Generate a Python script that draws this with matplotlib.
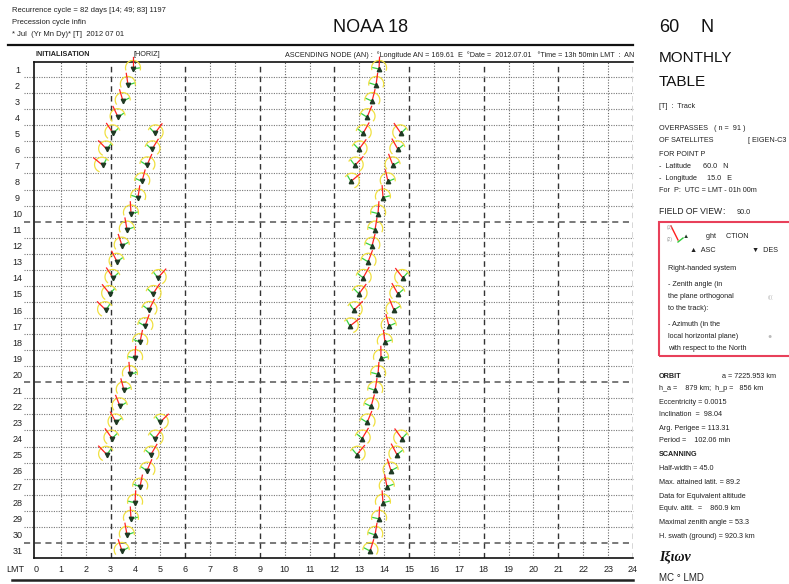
import numpy as np
import matplotlib.pyplot as plt
from matplotlib.lines import Line2D
from matplotlib.patches import Rectangle
from matplotlib.transforms import Affine2D, ScaledTranslation

plt.rcParams['font.family'] = ['Liberation Sans', 'DejaVu Sans']

W, H = 789, 584

# descending passes (day of month, LMT hour)
des_days = [1, 2, 3, 4, 5, 5, 6, 6, 7, 7, 8, 9, 10, 11, 12, 13, 14, 14, 15, 15, 16, 16,
            17, 18, 19, 20, 21, 22, 23, 23, 24, 24, 25, 25, 26, 27, 28, 29, 30, 31]
des_hours = [3.90, 3.70, 3.50, 3.30, 3.10, 4.78, 2.85, 4.66, 2.69, 4.46, 4.26, 4.10,
             3.82, 3.66, 3.46, 3.26, 3.10, 4.90, 2.97, 4.70, 2.81, 4.54,
             4.38, 4.18, 3.98, 3.78, 3.54, 3.38, 3.22, 4.98, 3.06, 4.78, 2.85, 4.62,
             4.46, 4.18, 3.98, 3.82, 3.66, 3.46]

# ascending passes
asc_days = [1, 2, 3, 4, 5, 5, 6, 6, 7, 7, 8, 8, 9, 10, 11, 12, 13, 14, 14, 15, 15, 16, 16,
            17, 17, 18, 19, 20, 21, 22, 23, 24, 24, 25, 25, 26, 27, 28, 29, 30, 31]
asc_hours = [13.79, 13.67, 13.51, 13.31, 13.15, 14.67, 12.98, 14.55, 12.82, 14.35,
             12.66, 14.15, 13.95, 13.75, 13.63, 13.51, 13.35, 13.15, 14.75, 12.98, 14.55,
             12.78, 14.39, 12.62, 14.19, 14.03, 13.87, 13.75, 13.63, 13.47, 13.31,
             13.11, 14.71, 12.90, 14.51, 14.27, 14.11, 13.95, 13.79, 13.63, 13.43]

days = list(range(1, 32))
hours = list(range(0, 25))

fig = plt.figure(figsize=(W / 100, H / 100), dpi=100)
fig.patch.set_facecolor('white')
ax = fig.add_axes([34 / W, 1 - 558 / H, (633 - 34) / W, (558 - 62) / H])


def fx(x):
    return x / W


def fy(y):
    return 1 - y / H


# grid
for h in hours[1:]:
    if h % 3 == 0:
        ax.axvline(h, color='#333333', lw=1.0, ls=(0, (4, 3)), zorder=1)
    else:
        ax.axvline(h, color='#666666', lw=0.8, ls=(0, (1, 1.5)), zorder=1)
for d in days[:-1]:
    yb = d + 0.5
    if d % 10 == 0:
        ax.hlines(yb, -0.016, 1, transform=ax.get_yaxis_transform(), clip_on=False,
                  color='#555555', lw=1.1, ls=(0, (4, 3)), zorder=1)
    else:
        ax.hlines(yb, -0.016, 1, transform=ax.get_yaxis_transform(), clip_on=False,
                  color='#777777', lw=0.8, ls=(0, (1, 1.2)), zorder=1)


def glyph(h, day, asc):
    if asc:
        tilt = -(h - 13.85) * 42
    else:
        tilt = (h - 3.9) * 42
    tr = Affine2D().rotate_deg(-tilt).scale(fig.dpi / 72) + ScaledTranslation(h, day, ax.transData)
    th = np.radians(np.linspace(-15, 195, 40))
    ax.add_line(Line2D(5.4 * np.cos(th), 5.4 * np.sin(th) + 0.8, transform=tr,
                       color='#f0e040', lw=0.9, clip_on=False, zorder=3))
    side = 1 if tilt <= 0 else -1
    ax.add_line(Line2D([0, side * 4.5], [0, 0.8], transform=tr,
                       color='#36d040', lw=0.9, clip_on=False, zorder=4))
    ax.add_line(Line2D([0, 0], [0, 8.5], transform=tr,
                       color='#ff2222', lw=0.9, clip_on=False, zorder=5))
    ax.plot([h], [day], marker='^' if asc else 'v', ms=3.2, color='#1f3a24',
            clip_on=False, zorder=6)


for h, d in zip(des_hours, des_days):
    glyph(h, d, False)
for h, d in zip(asc_hours, asc_days):
    glyph(h, d, True)

ax.set_xlim(-0.08, 24)
ax.set_ylim(31.436, 0.564)
ax.set_xticks(hours)
ax.set_xticklabels([str(h) for h in hours], fontsize=6.5, color='#222222')
ax.set_yticks(days)
ax.set_yticklabels([str(d) for d in days], fontsize=6.5, color='#222222')
ax.tick_params(axis='x', length=0, pad=5)
ax.tick_params(axis='y', length=0, pad=12)
for lab in ax.get_yticklabels():
    lab.set_ha('center')
for s in ['left', 'top', 'bottom']:
    ax.spines[s].set_linewidth(1.2)
    ax.spines[s].set_color('#111111')
ax.spines['right'].set_visible(False)

# frame lines above and below the table
fig.add_artist(Line2D([fx(8), fx(633)], [fy(45), fy(45)], color='#111111', lw=1.6))
fig.add_artist(Line2D([fx(12), fx(633)], [fy(580), fy(580)], color='#222222', lw=1.8))

small = 5.2
fig.text(fx(12), fy(10), 'Recurrence cycle = 82 days [14; 49; 83] 1197', fontsize=5.5, va='center', color='#222222')
fig.text(fx(12), fy(23), 'Precession cycle infin', fontsize=5.5, va='center', color='#222222')
fig.text(fx(12), fy(35), '* Jul  (Yr Mn Dy)* [T]  2012 07 01', fontsize=5.5, va='center', color='#222222')
fig.text(fx(371), fy(27), 'NOAA 18', fontsize=13, ha='center', va='center', color='#111111')

fig.text(fx(35), fy(55), 'INITIALISATION', fontsize=small, weight='bold', va='center', color='#222222')
fig.text(fx(133), fy(55), '[HORIZ]', fontsize=small, va='center', color='#222222')
fig.text(fx(634), fy(55), 'ASCENDING NODE (AN) :  °Longitude AN = 169.61  E  °Date =  2012.07.01   °Time = 13h 50min LMT  :  AN',
         fontsize=small, ha='right', va='center', color='#222222')
fig.text(fx(15), fy(570), 'LMT', fontsize=6.5, ha='center', va='center', color='#222222')

# right panel
fig.text(fx(659), fy(27), '60', fontsize=13, va='center', color='#111111')
fig.text(fx(700), fy(27), 'N', fontsize=13, va='center', color='#111111')
fig.text(fx(659), fy(58), 'MONTHLY', fontsize=11, va='center', color='#111111')
fig.text(fx(659), fy(82), 'TABLE', fontsize=11, va='center', color='#111111')

panel = [
    (107, '[T]  :  Track'),
    (129, 'OVERPASSES   ( n =  91 )'),
    (141, 'OF SATELLITES'),
    (154, 'FOR POINT P'),
    (166, '-  Latitude      60.0   N'),
    (179, '-  Longitude     15.0   E'),
    (191, 'For  P:  UTC = LMT - 01h 00m'),
]
for y, s in panel:
    fig.text(fx(659), fy(y), s, fontsize=small, va='center', color='#222222')
fig.text(fx(748), fy(141), '[ EIGEN-C3', fontsize=small, va='center', color='#222222')
fig.text(fx(659), fy(212), 'FIELD OF VIEW', fontsize=6.2, va='center', color='#222222')
fig.text(fx(722), fy(212), ':', fontsize=6.2, va='center', color='#222222')
fig.text(fx(737), fy(212), '90.0', fontsize=small, va='center', color='#222222')

fig.add_artist(Rectangle((fx(659), fy(356)), fx(140), 134 / H, fill=False,
                         edgecolor='#e8405a', lw=1.5))
fig.add_artist(Line2D([fx(671), fx(678)], [fy(226), fy(240)], color='#ff1f1f', lw=1.0))
fig.add_artist(Line2D([fx(678), fx(683)], [fy(242), fy(238)], color='#2fcf3a', lw=1.0))
fig.text(fx(667), fy(228), '(1)', fontsize=3.5, va='center', color='#999999')
fig.text(fx(667), fy(240), '(2)', fontsize=3.5, va='center', color='#999999')
fig.text(fx(683), fy(237), '▲', fontsize=4.5, va='center', color='#1f3a24')
fig.text(fx(706), fy(237), 'ght     CTION', fontsize=small, va='center', color='#222222')
fig.text(fx(690), fy(250), '▲  ASC', fontsize=small, va='center', color='#222222')
fig.text(fx(752), fy(250), '▼  DES', fontsize=small, va='center', color='#222222')
box = [
    (268, 'Right-handed system'),
    (285, '- Zenith angle (in'),
    (297, 'the plane orthogonal'),
    (309, 'to the track):'),
    (325, '- Azimuth (in the'),
    (337, 'local horizontal plane)'),
    (349, 'with respect to the North'),
]
for y, s in box:
    fig.text(fx(668), fy(y), s, fontsize=small, va='center', color='#222222')
fig.text(fx(768), fy(297), '(((', fontsize=4, va='center', color='#bbbbbb')
fig.text(fx(770), fy(337), '●', fontsize=5, va='center', ha='center', color='#bbbbbb')

orbit = [
    (389, 'h_a =    879 km;  h_p =   856 km'),
    (402, 'Eccentricity = 0.0015'),
    (415, 'Inclination  =  98.04'),
    (428, 'Arg. Perigee = 113.31'),
    (441, 'Period =    102.06 min'),
    (469, 'Half-width = 45.0'),
    (482, 'Max. attained latit. = 89.2'),
    (496, 'Data for Equivalent altitude'),
    (509, 'Equiv. altit.  =    860.9 km'),
    (522, 'Maximal zenith angle = 53.3'),
    (536, 'H. swath (ground) = 920.3 km'),
]
fig.text(fx(659), fy(376), 'ORBIT', fontsize=small, weight='bold', va='center', color='#222222')
fig.text(fx(722), fy(376), 'a = 7225.953 km', fontsize=small, va='center', color='#222222')
fig.text(fx(659), fy(455), 'SCANNING', fontsize=small, weight='bold', va='center', color='#222222')
for y, s in orbit:
    fig.text(fx(659), fy(y), s, fontsize=small, va='center', color='#222222')
fig.text(fx(659), fy(557), 'Ιξιων', fontsize=10, family='Liberation Serif', style='italic',
         weight='bold', va='center', color='#111111')
fig.text(fx(659), fy(578), 'MC ° LMD', fontsize=7, va='center', color='#222222')

fig.savefig('out.png', dpi=100)
